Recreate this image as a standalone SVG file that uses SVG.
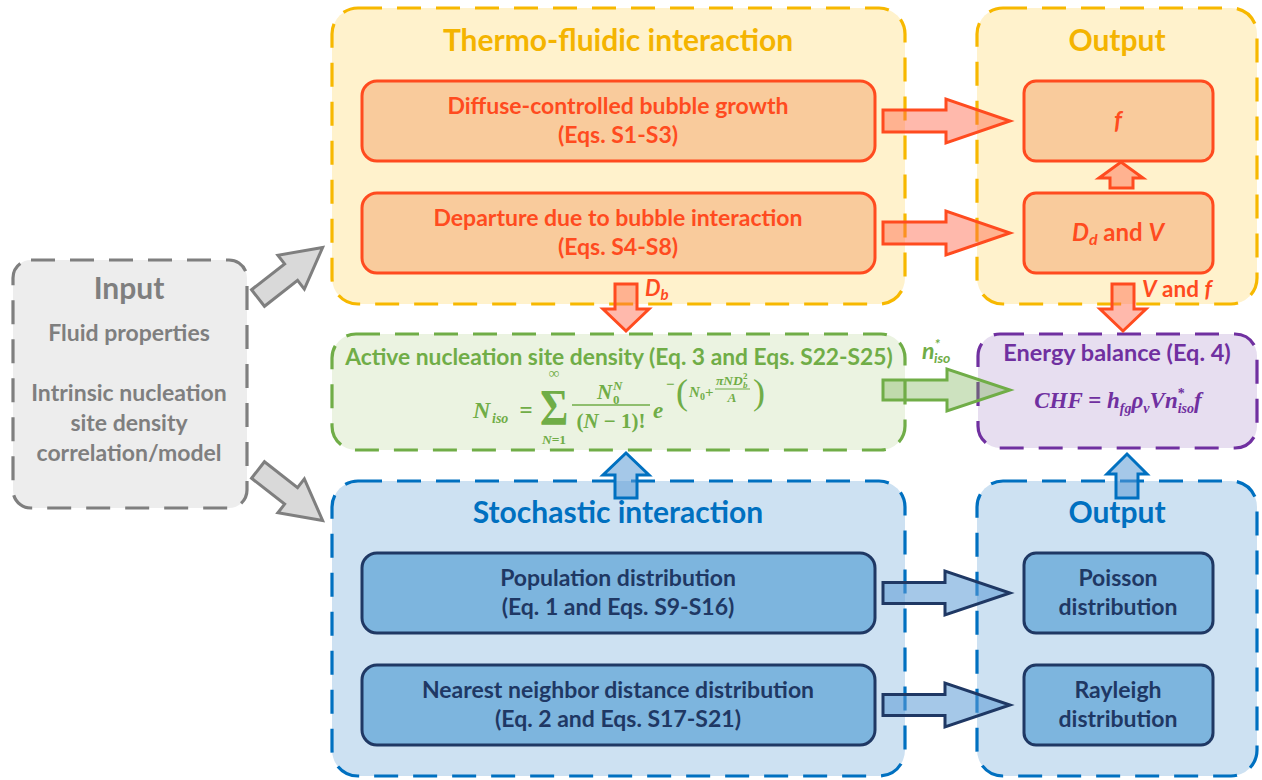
<svg xmlns="http://www.w3.org/2000/svg" width="1262" height="780" viewBox="0 0 1262 780">
<defs>
<style>
text{font-family:Lato,"Open Sans","Liberation Sans",sans-serif;font-weight:bold;text-anchor:middle}
.st{text-anchor:start}
.dash{stroke-width:3.2;stroke-dasharray:24 15;stroke-linecap:butt}
.yel{fill:#FFF2CC;stroke:#F7B800}
.org{fill:#F9CB9C;stroke:#FF4B1F;stroke-width:3}
.grn{fill:#EBF3E1;stroke:#70AD47}
.pur{fill:#E7DEF0;stroke:#7030A0}
.blu{fill:#CDE1F2;stroke:#0070C0}
.bin{fill:#7DB5DE;stroke:#1F3864;stroke-width:3}
.gry{fill:#EDEDED;stroke:#7F7F7F}
.ttl{font-size:30px}
.t20{font-size:23px}
.cy{fill:#F4B400}.co{fill:#FF4B1F}.cg{fill:#70AD47}.cp{fill:#7030A0}.cb{fill:#0070C0}.cn{fill:#1F3864}.ck{fill:#7F7F7F}
.m{font-family:"Liberation Serif","DejaVu Serif",serif;font-style:italic;font-weight:bold}
.up{font-style:normal}
.par{font-family:"Liberation Serif","DejaVu Serif",serif;font-style:normal;font-weight:normal;text-anchor:start}
.aor{fill:rgba(255,100,70,0.45);stroke:#FF4B1F;stroke-width:3}
.agr{fill:rgba(112,173,71,0.35);stroke:#70AD47;stroke-width:3}
.abl{fill:rgba(91,155,213,0.55);stroke:#1F3864;stroke-width:3}
.abu{fill:rgba(91,155,213,0.55);stroke:#0070C0;stroke-width:3}
.agy{fill:#D9D9D9;stroke:#7F7F7F;stroke-width:3}
</style>
</defs>

<g id="thermo">
<rect class="yel dash" x="332" y="8" width="573" height="296" rx="26"/>
<text class="ttl cy" x="618" y="51">Thermo-fluidic interaction</text>
</g>
<g id="diffuse">
<rect class="org" x="362" y="81" width="513" height="80" rx="15"/>
<text class="t20 co" x="618" y="114">Diffuse-controlled bubble growth</text>
<text class="t20 co" x="618" y="143">(Eqs. S1-S3)</text>
</g>
<g id="departure">
<rect class="org" x="362" y="193" width="513" height="80" rx="15"/>
<text class="t20 co" x="618" y="226">Departure due to bubble interaction</text>
<text class="t20 co" x="618" y="255">(Eqs. S4-S8)</text>
</g>

<g id="output-top">
<rect class="yel dash" x="977" y="8" width="280" height="296" rx="26"/>
<text class="ttl cy" x="1117" y="51">Output</text>
</g>
<g id="f-box">
<rect class="org" x="1024" y="81" width="189" height="80" rx="12"/>
<text class="co" x="1118" y="129" font-size="24" font-style="italic">f</text>
</g>
<g id="dd-box">
<rect class="org" x="1024" y="193" width="189" height="80" rx="12"/>
<text class="co" x="1118" y="241" font-size="24"><tspan font-style="italic">D</tspan><tspan font-style="italic" font-size="16" dy="4">d</tspan><tspan dy="-4"> and </tspan><tspan font-style="italic">V</tspan></text>
</g>

<g id="input">
<rect class="gry dash" x="13" y="260" width="234" height="248" rx="18"/>
<text class="ttl ck" x="129" y="299">Input</text>
<text class="t20 ck" x="129" y="341">Fluid properties</text>
<text class="t20 ck" x="129" y="401">Intrinsic nucleation</text>
<text class="t20 ck" x="129" y="431">site density</text>
<text class="t20 ck" x="129" y="461">correlation/model</text>
</g>

<g id="nucleation">
<rect class="grn dash" x="332" y="334" width="573" height="116" rx="24"/>
<text class="cg" x="619" y="365" font-size="22.8">Active nucleation site density (Eq. 3 and Eqs. S22-S25)</text>
<g class="cg">
<text class="m st" x="473" y="418" font-size="24">N</text>
<text class="m st" x="492" y="423" font-size="14">iso</text>
<text class="m up" x="526" y="418" font-size="23">=</text>
<text class="m up" transform="translate(554,424) scale(0.8,0.95)" font-size="54">Σ</text>
<text class="m up" x="554" y="378" font-size="15">∞</text>
<text class="m" x="554" y="444" font-size="13.5">N<tspan class="up">=1</tspan></text>
<text class="m st" x="597" y="399" font-size="21">N</text>
<text class="m up st" x="613" y="404" font-size="13">0</text>
<text class="m st" x="613" y="390" font-size="13">N</text>
<line x1="572" y1="405" x2="650" y2="405" stroke="#70AD47" stroke-width="1.6"/>
<text class="m" x="611" y="428" font-size="21"><tspan class="up">(</tspan>N <tspan class="up">− 1)!</tspan></text>
<text class="m st" x="653" y="418" font-size="23">e</text>
<text class="m up st" x="666" y="389" font-size="15">−</text>
<text class="par" x="676" y="404" font-size="36">(</text>
<text class="m st" x="689" y="397" font-size="15">N</text>
<text class="m up st" x="700" y="400" font-size="10">0</text>
<text class="m up st" x="705" y="397" font-size="15">+</text>
<text class="m st" x="716" y="385" font-size="13.5">πND</text>
<text class="m st" x="743" y="388" font-size="9">b</text>
<text class="m up st" x="743" y="379" font-size="9">2</text>
<line x1="715" y1="389" x2="750" y2="389" stroke="#70AD47" stroke-width="1.2"/>
<text class="m" x="732" y="402" font-size="13.5">A</text>
<text class="par" x="753" y="404" font-size="36">)</text>
</g>
</g>

<g id="energy">
<rect class="pur dash" x="978" y="334" width="279" height="114" rx="22"/>
<text class="cp" x="1117" y="361" font-size="23.5">Energy balance (Eq. 4)</text>
<text class="m cp" x="1118" y="408" font-size="23">CHF <tspan class="up">=</tspan> h<tspan font-size="14" dy="5">fg</tspan><tspan dy="-5">ρ</tspan><tspan font-size="14" dy="5">v</tspan><tspan dy="-5">Vn</tspan><tspan font-size="14" class="up" dy="-10">*</tspan><tspan font-size="14" dx="-7" dy="15">iso</tspan><tspan dy="-5">f</tspan></text>
</g>

<g id="stochastic">
<rect class="blu dash" x="332" y="481" width="573" height="295" rx="26"/>
<text class="ttl cb" x="618" y="523">Stochastic interaction</text>
</g>
<g id="population">
<rect class="bin" x="362" y="553" width="513" height="80" rx="15"/>
<text class="t20 cn" x="618" y="586">Population distribution</text>
<text class="t20 cn" x="618" y="615">(Eq. 1 and Eqs. S9-S16)</text>
</g>
<g id="nearest">
<rect class="bin" x="362" y="665" width="513" height="80" rx="15"/>
<text class="t20 cn" x="618" y="698">Nearest neighbor distance distribution</text>
<text class="t20 cn" x="618" y="727">(Eq. 2 and Eqs. S17-S21)</text>
</g>

<g id="output-bottom">
<rect class="blu dash" x="977" y="481" width="280" height="295" rx="26"/>
<text class="ttl cb" x="1117" y="523">Output</text>
</g>
<g id="poisson">
<rect class="bin" x="1024" y="553" width="189" height="80" rx="12"/>
<text class="t20 cn" x="1118" y="586">Poisson</text>
<text class="t20 cn" x="1118" y="615">distribution</text>
</g>
<g id="rayleigh">
<rect class="bin" x="1024" y="665" width="189" height="80" rx="12"/>
<text class="t20 cn" x="1118" y="698">Rayleigh</text>
<text class="t20 cn" x="1118" y="727">distribution</text>
</g>

<g id="connectors">
<path class="aor" d="M883,110 H946 V99 L1010,121 L946,143 V132 H883 Z"/>
<path class="aor" d="M883,222 H946 V211 L1010,233 L946,255 V244 H883 Z"/>
<path class="aor" d="M1110,188 V178 H1099 L1121,162 L1143,178 H1133 V188 Z"/>
<path class="aor" d="M615,284 H637 V309 H649 L626,331 L603,309 H615 Z"/>
<path class="aor" d="M1112,284 H1134 V309 H1146 L1123,331 L1100,309 H1112 Z"/>
<path class="agr" d="M883,380 H947 V369 L1010,390 L947,411 V400 H883 Z"/>
<path class="abl" d="M883,582.5 H945 V571 L1010,593 L945,615 V603.5 H883 Z"/>
<path class="abl" d="M883,694.5 H945 V683 L1010,705 L945,727 V715.5 H883 Z"/>
<path class="abu" d="M615,498 V475 H603 L626,453 L649,475 H637 V498 Z"/>
<path class="abu" d="M1116,498 V474 H1107 L1127,454 L1147,474 H1138 V498 Z"/>
<path class="agy" transform="translate(258,298) rotate(-38)" d="M0,-10.5 H42 V-21.5 L82,0 L42,21.5 V10.5 H0 Z"/>
<path class="agy" transform="translate(258,470) rotate(38)" d="M0,-10.5 H42 V-21.5 L82,0 L42,21.5 V10.5 H0 Z"/>
<text class="co st" x="645" y="296" font-size="22" font-style="italic">D<tspan font-size="15" dy="4">b</tspan></text>
<text class="co st" x="1142" y="297" font-size="22.5"><tspan font-style="italic">V</tspan> and <tspan font-style="italic">f</tspan></text>
<text class="cg st" x="922" y="359" font-size="23" font-style="italic">n<tspan font-size="14" dy="-10">*</tspan><tspan font-size="14" dx="-6" dy="14">iso</tspan></text>
</g>
</svg>
